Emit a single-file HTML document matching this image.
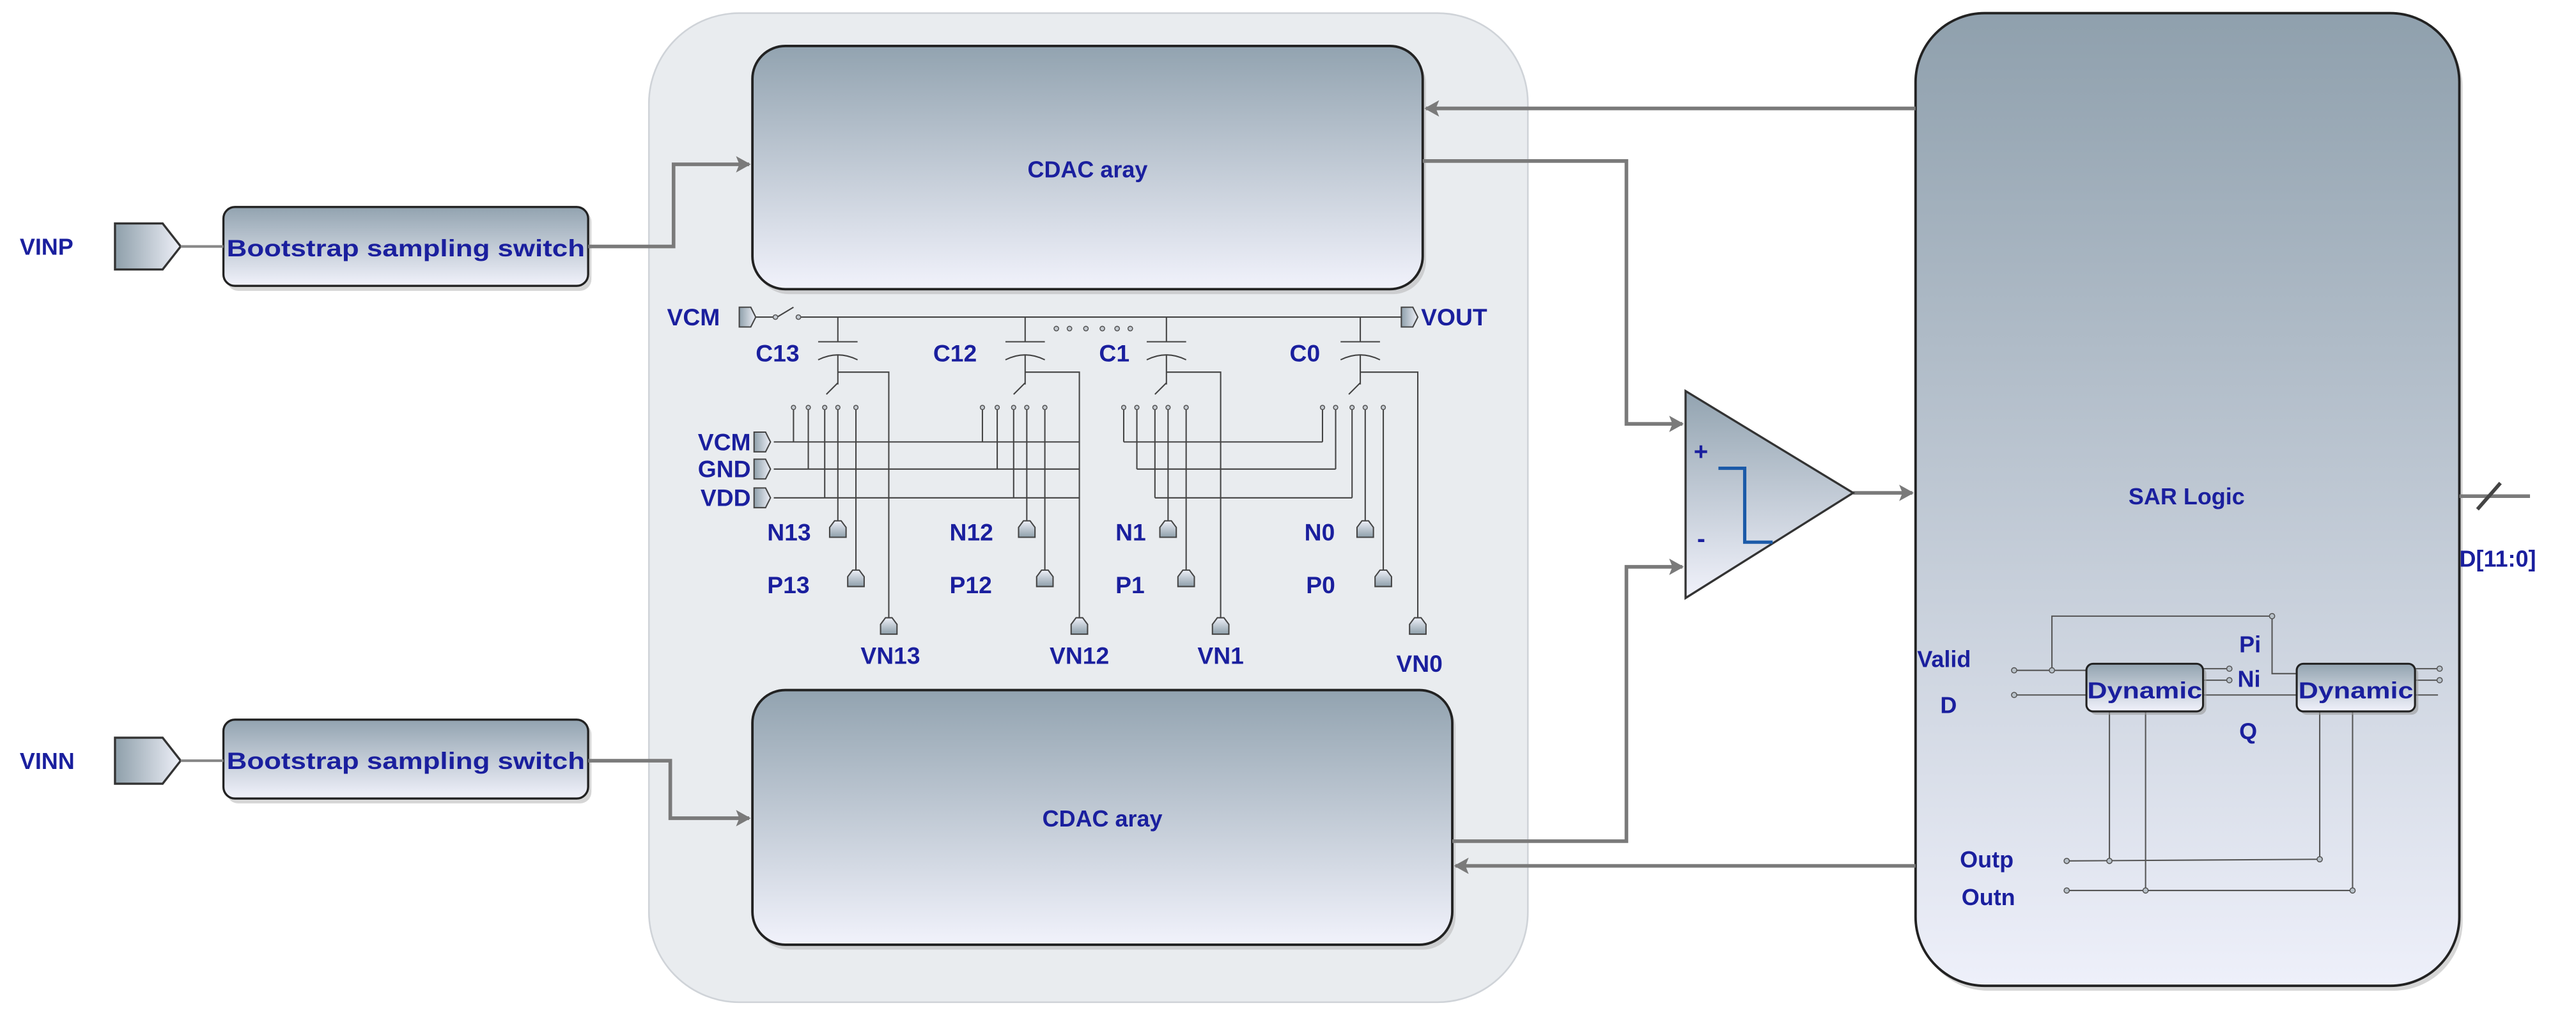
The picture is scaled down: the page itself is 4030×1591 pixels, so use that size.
<!DOCTYPE html>
<html><head><meta charset="utf-8"><style>
html,body{margin:0;padding:0;background:#fff;}
svg{display:block;}
text{font-family:"Liberation Sans",Arial,sans-serif;font-weight:bold;fill:#1a1f9e;}
</style></head><body>
<svg width="4030" height="1591" viewBox="0 0 1568 619" preserveAspectRatio="none" xmlns="http://www.w3.org/2000/svg">
<defs>
<linearGradient id="bg" x1="0" y1="0" x2="0" y2="1"><stop offset="0" stop-color="#92a3b0"/><stop offset="1" stop-color="#f1f2fb"/></linearGradient>
<linearGradient id="sg" x1="0" y1="0" x2="0" y2="1"><stop offset="0" stop-color="#8fa0ad"/><stop offset="1" stop-color="#eef0fa"/></linearGradient>
<linearGradient id="pg" x1="0" y1="0" x2="1" y2="0"><stop offset="0" stop-color="#8e9faa"/><stop offset="1" stop-color="#eef0f8"/></linearGradient>
<linearGradient id="pgv" x1="0" y1="0" x2="0" y2="1"><stop offset="0" stop-color="#eef0f8"/><stop offset="1" stop-color="#8e9faa"/></linearGradient>
<marker id="ar" markerWidth="10" markerHeight="10" refX="8" refY="5" orient="auto" markerUnits="userSpaceOnUse"><path d="M0,0 L9,5 L0,10 L2,5 Z" fill="#7a7a7a"/></marker>
<g id="pr"><polygon points="0,-6 7,-6 10,0 7,6 0,6" fill="url(#pg)" stroke="#444" stroke-width="0.8"/></g>
<g id="pu"><polygon points="-5,10 -5,4 -2,0 2,0 5,4 5,10" fill="url(#pgv)" stroke="#444" stroke-width="0.8"/></g>
</defs>

<rect x="395" y="8" width="535" height="602" rx="55" fill="#e9ecef" stroke="#cfd3d8" stroke-width="1"/>

<rect x="460" y="31" width="408" height="148" rx="20" fill="#bbb" opacity="0.6"/>
<rect x="458" y="28" width="408" height="148" rx="20" fill="url(#bg)" stroke="#222" stroke-width="1.5"/>
<text x="662" y="108" font-size="14" text-anchor="middle">CDAC aray</text>
<rect x="460" y="423" width="426" height="155" rx="20" fill="#bbb" opacity="0.6"/>
<rect x="458" y="420" width="426" height="155" rx="20" fill="url(#bg)" stroke="#222" stroke-width="1.5"/>
<text x="671" y="503" font-size="14" text-anchor="middle">CDAC aray</text>

<rect x="1168" y="11" width="331" height="592" rx="42" fill="#bbb" opacity="0.6"/>
<rect x="1166" y="8" width="331" height="592" rx="42" fill="url(#sg)" stroke="#222" stroke-width="1.5"/>
<text x="1331" y="307" font-size="14" text-anchor="middle">SAR Logic</text>

<rect x="138" y="128" width="222" height="49" rx="7" fill="#bbb" opacity="0.6"/>
<rect x="136" y="126" width="222" height="48" rx="7" fill="url(#bg)" stroke="#222" stroke-width="1.3"/>
<text x="138" y="156" font-size="14.5" textLength="218" lengthAdjust="spacingAndGlyphs">Bootstrap sampling switch</text>
<rect x="138" y="440" width="222" height="49" rx="7" fill="#bbb" opacity="0.6"/>
<rect x="136" y="438" width="222" height="48" rx="7" fill="url(#bg)" stroke="#222" stroke-width="1.3"/>
<text x="138" y="468" font-size="14.5" textLength="218" lengthAdjust="spacingAndGlyphs">Bootstrap sampling switch</text>

<polygon points="70,136 99,136 110,150 99,164 70,164" fill="url(#pg)" stroke="#333" stroke-width="1.3"/>
<polygon points="70,449 99,449 110,463 99,477 70,477" fill="url(#pg)" stroke="#333" stroke-width="1.3"/>
<text x="12" y="155" font-size="14">VINP</text>
<text x="12" y="468" font-size="14">VINN</text>
<g stroke="#888" stroke-width="1.6" fill="none">
<line x1="110" y1="150" x2="136" y2="150"/>
<line x1="110" y1="463" x2="136" y2="463"/>
</g>

<g stroke="#7a7a7a" stroke-width="2.2" fill="none">
<polyline points="358,150 410,150 410,100 456,100" marker-end="url(#ar)"/>
<polyline points="358,463 408,463 408,498 456,498" marker-end="url(#ar)"/>
<polyline points="1166,66 868,66" marker-end="url(#ar)"/>
<polyline points="1166,527 886,527" marker-end="url(#ar)"/>
<polyline points="866,98 990,98 990,258 1024,258" marker-end="url(#ar)"/>
<polyline points="884,512 990,512 990,345 1024,345" marker-end="url(#ar)"/>
<polyline points="1128,300 1164,300" marker-end="url(#ar)"/>
<line x1="1497" y1="302" x2="1540" y2="302"/>
<line x1="1508" y1="310" x2="1522" y2="294" stroke="#444"/>
</g>
<text x="1497" y="345" font-size="14">D[11:0]</text>

<polygon points="1026,238 1026,364 1128,300" fill="url(#bg)" stroke="#333" stroke-width="1.3"/>
<text x="1031" y="280" font-size="15">+</text>
<text x="1033" y="333" font-size="15">-</text>
<polyline points="1046,285 1062,285 1062,330 1079,330" fill="none" stroke="#1b5aa8" stroke-width="2"/>

<g stroke="#444" stroke-width="0.8" fill="none">
<line x1="460" y1="193" x2="471" y2="193"/>
<line x1="473" y1="193" x2="483" y2="187"/>
<line x1="486" y1="193" x2="853" y2="193"/>
<line x1="471" y1="269" x2="657" y2="269"/>
<line x1="471" y1="285.5" x2="657" y2="285.5"/>
<line x1="471" y1="303" x2="657" y2="303"/>
<line x1="684" y1="269" x2="805" y2="269"/>
<line x1="692" y1="285.5" x2="813" y2="285.5"/>
<line x1="703" y1="303" x2="823" y2="303"/>
</g>
<g fill="#c5cbd2" stroke="#555" stroke-width="0.6">
<circle cx="472" cy="193" r="1.4"/><circle cx="486" cy="193" r="1.4"/>
<circle cx="643" cy="200" r="1.4"/><circle cx="651" cy="200" r="1.4"/><circle cx="661" cy="200" r="1.4"/><circle cx="671" cy="200" r="1.4"/><circle cx="680" cy="200" r="1.4"/><circle cx="688" cy="200" r="1.4"/>
</g>

<g stroke="#444" stroke-width="0.8" fill="none">
<path d="M510,193V208M498,208H522M498,219Q510,213 522,219M510,216V234M503,240L510,233M510,226.5H541V376
M483,248V269M492,248V285.5M502,248V303M510,248V317M521,248V347"/>
<path d="M624,193V208M612,208H636M612,219Q624,213 636,219M624,216V234M617,240L624,233M624,226.5H657V376
M598,248V269M607,248V285.5M617,248V303M625,248V317M636,248V347"/>
<path d="M710,193V208M698,208H722M698,219Q710,213 722,219M710,216V234M703,240L710,233M710,226.5H743V376
M684,248V269M692,248V285.5M703,248V303M711,248V317M722,248V347"/>
<path d="M828,193V208M816,208H840M816,219Q828,213 840,219M828,216V234M821,240L828,233M828,226.5H863V376
M805,248V269M813,248V285.5M823,248V303M831,248V317M842,248V347"/>
</g>
<g fill="#c5cbd2" stroke="#555" stroke-width="0.6">
<circle cx="483" cy="248" r="1.3"/><circle cx="492" cy="248" r="1.3"/><circle cx="502" cy="248" r="1.3"/><circle cx="510" cy="248" r="1.3"/><circle cx="521" cy="248" r="1.3"/>
<circle cx="598" cy="248" r="1.3"/><circle cx="607" cy="248" r="1.3"/><circle cx="617" cy="248" r="1.3"/><circle cx="625" cy="248" r="1.3"/><circle cx="636" cy="248" r="1.3"/>
<circle cx="684" cy="248" r="1.3"/><circle cx="692" cy="248" r="1.3"/><circle cx="703" cy="248" r="1.3"/><circle cx="711" cy="248" r="1.3"/><circle cx="722" cy="248" r="1.3"/>
<circle cx="805" cy="248" r="1.3"/><circle cx="813" cy="248" r="1.3"/><circle cx="823" cy="248" r="1.3"/><circle cx="831" cy="248" r="1.3"/><circle cx="842" cy="248" r="1.3"/>
</g>

<use href="#pr" x="450" y="193"/>
<use href="#pr" x="853" y="193"/>
<use href="#pr" x="459" y="269"/>
<use href="#pr" x="459" y="285.5"/>
<use href="#pr" x="459" y="303"/>
<use href="#pu" x="510" y="317"/><use href="#pu" x="521" y="347"/><use href="#pu" x="541" y="376"/>
<use href="#pu" x="625" y="317"/><use href="#pu" x="636" y="347"/><use href="#pu" x="657" y="376"/>
<use href="#pu" x="711" y="317"/><use href="#pu" x="722" y="347"/><use href="#pu" x="743" y="376"/>
<use href="#pu" x="831" y="317"/><use href="#pu" x="842" y="347"/><use href="#pu" x="863" y="376"/>

<g font-size="14.5">
<text x="406" y="198">VCM</text>
<text x="865" y="198">VOUT</text>
<text x="460" y="220">C13</text>
<text x="568" y="220">C12</text>
<text x="669" y="220">C1</text>
<text x="785" y="220">C0</text>
<text x="457" y="274" text-anchor="end">VCM</text>
<text x="457" y="290.5" text-anchor="end">GND</text>
<text x="457" y="308" text-anchor="end">VDD</text>
<text x="467" y="329">N13</text><text x="467" y="361">P13</text>
<text x="578" y="329">N12</text><text x="578" y="361">P12</text>
<text x="679" y="329">N1</text><text x="679" y="361">P1</text>
<text x="794" y="329">N0</text><text x="795" y="361">P0</text>
<text x="542" y="404" text-anchor="middle">VN13</text>
<text x="657" y="404" text-anchor="middle">VN12</text>
<text x="743" y="404" text-anchor="middle">VN1</text>
<text x="864" y="409" text-anchor="middle">VN0</text>
</g>

<g stroke="#555" stroke-width="0.8" fill="none">
<line x1="1226" y1="408" x2="1270" y2="408"/>
<polyline points="1249,408 1249,375 1383,375 1383,410 1398,410"/>
<line x1="1226" y1="423" x2="1484" y2="423"/>
<line x1="1341" y1="407" x2="1357" y2="407"/><line x1="1341" y1="414" x2="1357" y2="414"/>
<line x1="1470" y1="407" x2="1485" y2="407"/><line x1="1470" y1="414" x2="1485" y2="414"/>
<line x1="1284" y1="433" x2="1284" y2="524"/>
<line x1="1306" y1="433" x2="1306" y2="542"/>
<line x1="1412" y1="433" x2="1412" y2="523"/>
<line x1="1432" y1="433" x2="1432" y2="542"/>
<line x1="1258" y1="524" x2="1412" y2="523"/>
<line x1="1258" y1="542" x2="1432" y2="542"/>
</g>
<rect x="1272" y="406" width="71" height="29" rx="4" fill="#999" opacity="0.6"/>
<rect x="1270" y="404" width="71" height="29" rx="4" fill="url(#bg)" stroke="#222" stroke-width="1.2"/>
<rect x="1400" y="406" width="72" height="29" rx="4" fill="#999" opacity="0.6"/>
<rect x="1398" y="404" width="72" height="29" rx="4" fill="url(#bg)" stroke="#222" stroke-width="1.2"/>
<g fill="#b8c1c9" stroke="#555" stroke-width="0.6">
<circle cx="1226" cy="408" r="1.6"/><circle cx="1249" cy="408" r="1.6"/><circle cx="1226" cy="423" r="1.6"/>
<circle cx="1383" cy="375" r="1.6"/>
<circle cx="1357" cy="407" r="1.6"/><circle cx="1357" cy="414" r="1.6"/>
<circle cx="1485" cy="407" r="1.6"/><circle cx="1485" cy="414" r="1.6"/>
<circle cx="1258" cy="524" r="1.6"/><circle cx="1284" cy="524" r="1.6"/><circle cx="1412" cy="523" r="1.6"/>
<circle cx="1258" cy="542" r="1.6"/><circle cx="1306" cy="542" r="1.6"/><circle cx="1432" cy="542" r="1.6"/>
</g>
<g font-size="14">
<text x="1305.5" y="425" text-anchor="middle" textLength="70" lengthAdjust="spacingAndGlyphs">Dynamic</text>
<text x="1434" y="425" text-anchor="middle" textLength="70" lengthAdjust="spacingAndGlyphs">Dynamic</text>
<text x="1167" y="406">Valid</text>
<text x="1181" y="434">D</text>
<text x="1363" y="397">Pi</text>
<text x="1362" y="418">Ni</text>
<text x="1363" y="450">Q</text>
<text x="1193" y="528">Outp</text>
<text x="1194" y="551">Outn</text>
</g>
</svg>
</body></html>
